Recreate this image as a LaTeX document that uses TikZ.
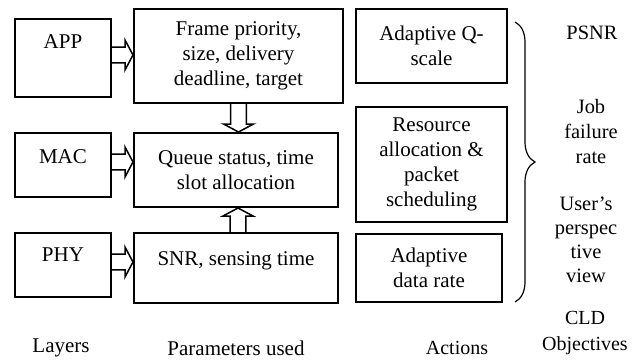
\documentclass[tikz,border=0pt]{standalone}
\usepackage{fontspec}
\setmainfont{Liberation Serif}
\usetikzlibrary{calc,decorations.pathreplacing}

\tikzset{
  box/.style={draw, line width=1pt, align=center, inner sep=1pt},
  lbl/.style={align=center, inner sep=0pt},
  small/.style={font=\rmfamily\fontsize{10}{13}\selectfont},
  % hollow block arrow drawn as an outline between two points
  blockarr/.style={line width=0.75pt, line join=miter, to path={
      ($(\tikztotarget)!4pt!(\tikztostart)$) coordinate (hb)
      ($(\tikztostart)!3.9pt!90:(\tikztotarget)$) -- ($(hb)!3.9pt!90:(\tikztotarget)$)
      -- ($(hb)!7.5pt!90:(\tikztotarget)$) -- (\tikztotarget)
      -- ($(hb)!7.5pt!-90:(\tikztotarget)$) -- ($(hb)!3.9pt!-90:(\tikztotarget)$)
      -- ($(\tikztostart)!3.9pt!-90:(\tikztotarget)$)}},
}

\begin{document}
\begin{tikzpicture}[x=1pt, y=1pt, font=\rmfamily\fontsize{10.5}{12.5}\selectfont]
  \useasboundingbox (0,0) rectangle (316.5,-180.5);

  % Layers
  \node[box, minimum width=48pt, minimum height=39pt, text depth=16pt] (app) at (31.5,-29) {APP};
  \node[box, minimum width=48pt, minimum height=32pt, text depth=8pt] (mac) at (31.5,-82.5) {MAC};
  \node[box, minimum width=48pt, minimum height=32pt, text depth=10pt] (phy) at (31.5,-132.5) {PHY};

  % Parameters used
  \node[box, minimum width=104.5pt, minimum height=47pt] (frame) at (119.25,-28)
    {Frame priority,\\ size, delivery\\ deadline, target};
  \node[box, minimum width=102pt, minimum height=37pt] (queue) at (118,-85)
    {Queue status, time\\ slot allocation};
  \node[box, minimum width=102pt, minimum height=35pt, text height=7pt, text depth=10pt] (snr) at (118,-134)
    {SNR, sensing time};

  % Actions
  \node[box, minimum width=75.5pt, minimum height=37pt] (qscale) at (215.75,-23)
    {Adaptive Q-\\ scale};
  \node[box, minimum width=75.5pt, minimum height=57.5pt] (resalloc) at (215.75,-82.25)
    {Resource\\ allocation \&\\ packet\\ scheduling};
  \node[box, minimum width=73pt, minimum height=34pt] (datarate) at (214.5,-134)
    {Adaptive\\ data rate};

  % CLD objectives
  \node[lbl, font=\rmfamily\fontsize{10.2}{12.5}\selectfont] (psnr) at (296,-16.5) {PSNR};
  \node[lbl, font=\rmfamily\fontsize{10.2}{12.5}\selectfont] (jfr) at (295.5,-66) {Job\\ failure\\ rate};
  \node[lbl, font=\rmfamily\fontsize{10.2}{12}\selectfont] (users) at (293,-120) {User’s\\ perspec\\ tive\\ view};

  \coordinate (bracetop) at (257.5,-11);
  \coordinate (bracebot) at (257.5,-151);
  \draw[line width=0.6pt, decorate, decoration={brace, amplitude=10pt}] (bracetop) -- (bracebot);

  % Block arrows
  \draw[blockarr] ([yshift=1.5pt]app.east) to ([yshift=1.5pt]app.east -| frame.west);
  \draw[blockarr] ([yshift=1.5pt]mac.east) to ([yshift=1.5pt]mac.east -| queue.west);
  \draw[blockarr] ([yshift=1.5pt]phy.east) to ([yshift=1.5pt]phy.east -| snr.west);
  \draw[blockarr] (frame.south) to (frame.south |- queue.north);
  \draw[blockarr] ([xshift=1pt]snr.north) to ([xshift=1pt]snr.north |- queue.south);

  % Column captions
  \node[lbl] (layers) at (30.5,-174) {Layers};
  \node[lbl] (params) at (118,-174) {Parameters used};
  \node[lbl, small] (actions) at (228.5,-174) {Actions};
  \node[lbl, small] (cld) at (292.5,-166.5) {CLD\\ Objectives};
\end{tikzpicture}
\end{document}
